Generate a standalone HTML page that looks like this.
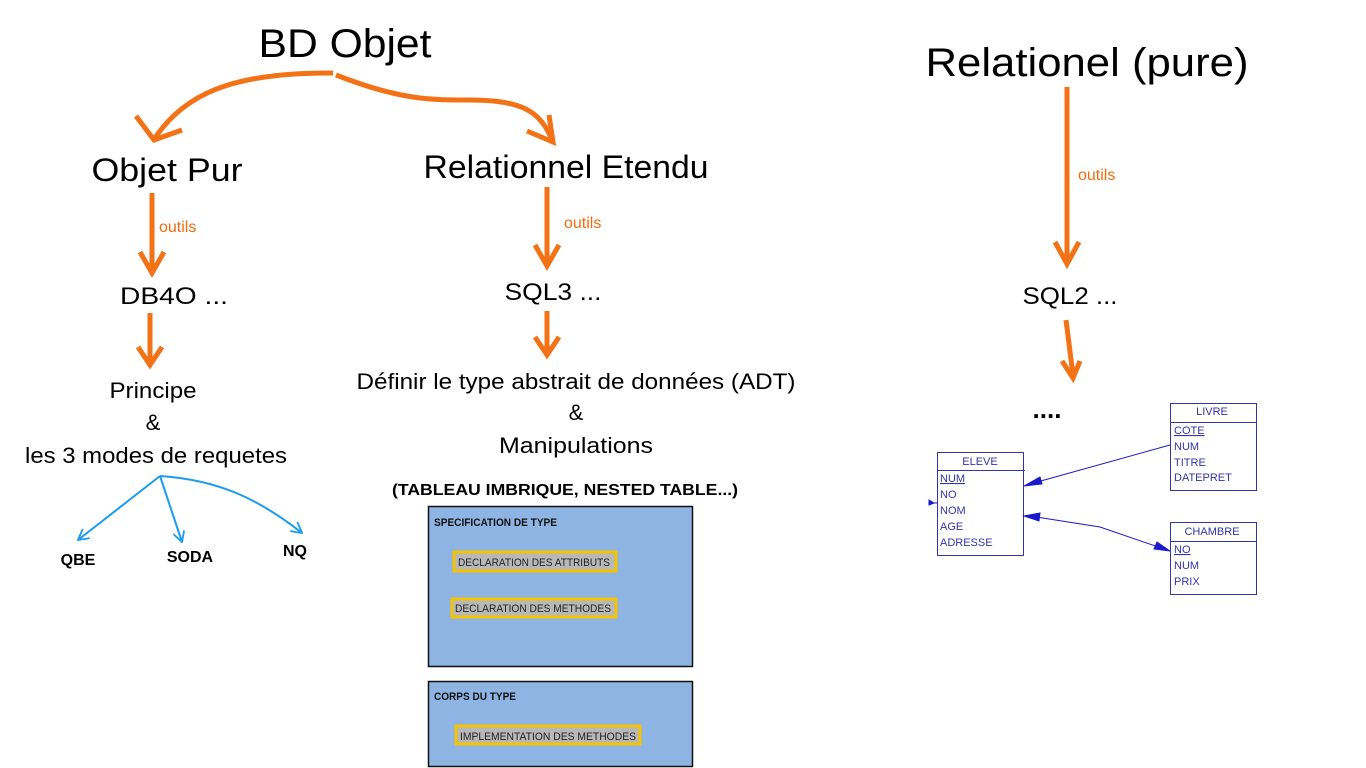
<!DOCTYPE html>
<html><head><meta charset="utf-8"><style>html,body{margin:0;padding:0;background:#fff;}svg{display:block}</style></head>
<body>
<svg width="1366" height="768" viewBox="0 0 1366 768" xmlns="http://www.w3.org/2000/svg" font-family="'Liberation Sans', sans-serif">
<defs>
<marker id="bl" viewBox="0 0 10 10" refX="9" refY="5" markerWidth="12" markerHeight="12" markerUnits="userSpaceOnUse" orient="auto"><path d="M0,0 L9,5 L0,10" fill="none" stroke="#1a9bf0" stroke-width="1.5"/></marker>
</defs>
<g fill="#000" text-anchor="middle">
<text x="345" y="57" font-size="40" textLength="173" lengthAdjust="spacingAndGlyphs">BD Objet</text>
<text x="1087" y="76" font-size="40" textLength="323" lengthAdjust="spacingAndGlyphs">Relationel (pure)</text>
<text x="167" y="181" font-size="32" textLength="151" lengthAdjust="spacingAndGlyphs">Objet  Pur</text>
<text x="566" y="178" font-size="32" textLength="285" lengthAdjust="spacingAndGlyphs">Relationnel Etendu</text>
<text x="174" y="304" font-size="24" textLength="108" lengthAdjust="spacingAndGlyphs">DB4O ...</text>
<text x="553" y="300" font-size="24" textLength="97" lengthAdjust="spacingAndGlyphs">SQL3 ...</text>
<text x="1070" y="304" font-size="24" textLength="95" lengthAdjust="spacingAndGlyphs">SQL2 ...</text>
<text x="153" y="398" font-size="22" textLength="87" lengthAdjust="spacingAndGlyphs">Principe</text>
<text x="153" y="430" font-size="22">&amp;</text>
<text x="156" y="463" font-size="22" textLength="262" lengthAdjust="spacingAndGlyphs">les 3 modes de requetes</text>
<text x="576" y="389" font-size="22" textLength="439" lengthAdjust="spacingAndGlyphs">Définir le type abstrait de données (ADT)</text>
<text x="576" y="420" font-size="22">&amp;</text>
<text x="576" y="453" font-size="22" textLength="154" lengthAdjust="spacingAndGlyphs">Manipulations</text>
<text x="565" y="495" font-size="16" font-weight="bold" textLength="346" lengthAdjust="spacingAndGlyphs">(TABLEAU IMBRIQUE, NESTED TABLE...)</text>
<text x="78" y="565" font-size="16" font-weight="bold">QBE</text>
<text x="190" y="562" font-size="16" font-weight="bold">SODA</text>
<text x="295" y="556" font-size="16" font-weight="bold">NQ</text>
<text x="1047" y="418" font-size="26" font-weight="bold">....</text>
</g>
<g fill="#f26c0f" font-size="16">
<text x="159" y="232">outils</text>
<text x="564" y="228">outils</text>
<text x="1078" y="180">outils</text>
</g>
<g stroke="#f47216" stroke-width="5" fill="none" stroke-linecap="butt">
<path d="M333,73 C250,73 190,85 155,138"/>
<path d="M136,116 L154,140 L182,130"/>
<path d="M336,75 C400,100 430,100 470,100 C520,100 540,110 552,140"/>
<path d="M527,131 L553,142 L549,115"/>
<path d="M152,193 V272"/><path d="M140,252 L152,273 L164,252"/>
<path d="M150,313 V362"/><path d="M138,347 L150,365 L162,347"/>
<path d="M547,187 V265"/><path d="M535,245 L547,266 L559,245"/>
<path d="M547,311 V352"/><path d="M535,337 L547,355 L559,337"/>
<path d="M1067,87 V262"/><path d="M1055,242 L1067,264 L1079,242"/>
<path d="M1066,320 L1073,375"/><path d="M1062,361 L1073,378 L1080,361"/>
</g>
<g stroke="#1a9bf0" stroke-width="2" fill="none">
<path d="M160,476 L78,540" marker-end="url(#bl)"/>
<path d="M160,476 L182,542" marker-end="url(#bl)"/>
<path d="M160,476 C220,480 260,500 302,533" marker-end="url(#bl)"/>
</g>
<g stroke="#111" stroke-width="1.5" fill="#8eb4e3">
<rect x="428.5" y="506.5" width="264" height="160"/>
<rect x="428.5" y="681.5" width="264" height="85"/>
</g>
<g font-size="11" fill="#111" font-weight="bold">
<text x="434" y="526" textLength="123" lengthAdjust="spacingAndGlyphs">SPECIFICATION DE TYPE</text>
<text x="434" y="700" textLength="82" lengthAdjust="spacingAndGlyphs">CORPS DU TYPE</text>
</g>
<g stroke="#f5c400" stroke-width="3" fill="#b8b8b8">
<rect x="454" y="552" width="162" height="19"/>
<rect x="452" y="599" width="164" height="18"/>
<rect x="456" y="726" width="184" height="18"/>
</g>
<g font-size="11" fill="#222">
<text x="458" y="566" textLength="152" lengthAdjust="spacingAndGlyphs">DECLARATION DES ATTRIBUTS</text>
<text x="455" y="612" textLength="156" lengthAdjust="spacingAndGlyphs">DECLARATION DES METHODES</text>
<text x="460" y="740" textLength="176" lengthAdjust="spacingAndGlyphs">IMPLEMENTATION DES METHODES</text>
</g>
<g stroke="#3333aa" stroke-width="1" fill="#fff">
<rect x="937.5" y="452.5" width="86" height="103"/><line x1="937" y1="470.5" x2="1025" y2="470.5"/>
<rect x="1170.5" y="403.5" width="86" height="87"/><line x1="1170" y1="422.5" x2="1257" y2="422.5"/>
<rect x="1170.5" y="522.5" width="86" height="72"/><line x1="1170" y1="541.5" x2="1257" y2="541.5"/>
</g>
<g font-size="11" fill="#3333aa">
<text x="980" y="465" text-anchor="middle">ELEVE</text>
<text x="940" y="482" text-decoration="underline">NUM</text>
<text x="940" y="498">NO</text>
<text x="940" y="514">NOM</text>
<text x="940" y="530">AGE</text>
<text x="940" y="546">ADRESSE</text>
<text x="1212" y="415" text-anchor="middle">LIVRE</text>
<text x="1174" y="434" text-decoration="underline">COTE</text>
<text x="1174" y="450">NUM</text>
<text x="1174" y="466">TITRE</text>
<text x="1174" y="481">DATEPRET</text>
<text x="1212" y="535" text-anchor="middle">CHAMBRE</text>
<text x="1174" y="553" text-decoration="underline">NO</text>
<text x="1174" y="569">NUM</text>
<text x="1174" y="585">PRIX</text>
</g>
<g stroke="#1a1acc" stroke-width="1" fill="#1a1acc">
<line x1="1170" y1="445" x2="1030" y2="484"/>
<polygon points="1024,486 1040,477 1042,484"/>
<polyline points="1030,516 1100,527 1164,549" fill="none"/>
<polygon points="1024,516 1040,513 1039,521"/>
<polygon points="1170,551 1154,549 1157,542"/>
<line x1="931" y1="503" x2="937" y2="503"/>
<polygon points="929,500 934,503 929,505"/>
</g>
</svg>
</body></html>
